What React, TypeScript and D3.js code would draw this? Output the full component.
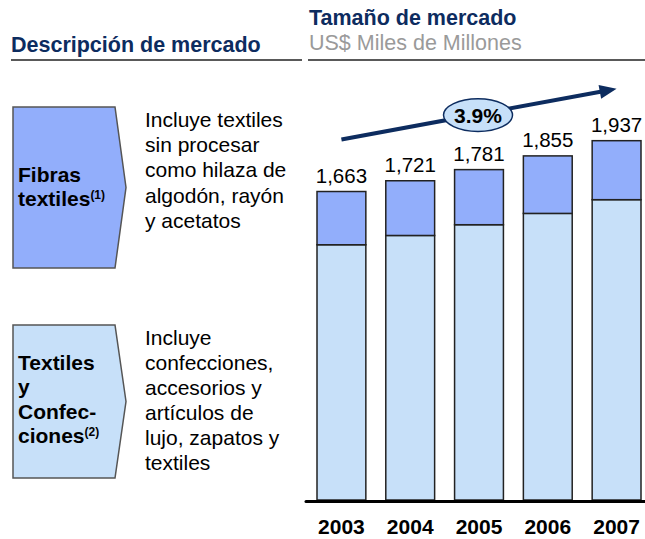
import React from "react";
import * as d3 from "d3";

const years = ["2003", "2004", "2005", "2006", "2007"];
const totals = [1663, 1721, 1781, 1855, 1937];
const textilesConfecciones = [1376, 1426, 1484, 1545, 1619];
const fibrasTextiles = [287, 295, 297, 310, 318];
const cagrLabel = "3.9%";

const fibrasDesc = ["Incluye textiles", "sin procesar", "como hilaza de", "algodón, rayón", "y acetatos"];
const textilesDesc = ["Incluye", "confecciones,", "accesorios y", "artículos de", "lujo, zapatos y", "textiles"];

const W = 645;
const H = 539;
const FONT = "'Liberation Sans', Arial, Helvetica, sans-serif";
const NAVY = "#0d2c5f";
const DARK = "#92aefb";
const LIGHT = "#c7e0f9";

export default function App() {
  const x = d3.scaleBand<string>().domain(years).range([317, 641]).paddingInner(0.29).paddingOuter(0);
  const y = d3.scaleLinear().domain([0, 2000]).range([500, 129]);
  const fmt = d3.format(",");

  const stacked = years.map((yr, i) => ({
    year: yr,
    segs: [
      { y0: 0, y1: textilesConfecciones[i], fill: LIGHT },
      { y0: textilesConfecciones[i], y1: textilesConfecciones[i] + fibrasTextiles[i], fill: DARK },
    ],
    total: totals[i],
  }));

  const bw = x.bandwidth();
  const ax0 = x(years[0])! + bw / 2;
  const ay0 = y(totals[0]) - 52;
  const ax1 = x(years[years.length - 1])! + bw / 2;
  const ay1 = y(totals[totals.length - 1]) - 52;
  const ang = Math.atan2(ay1 - ay0, ax1 - ax0);
  const ux = Math.cos(ang), uy = Math.sin(ang);
  const headL = 17, headW = 7;
  const bx = ax1 - ux * headL, by = ay1 - uy * headL;
  const head = [
    [ax1, ay1],
    [bx - uy * headW, by + ux * headW],
    [bx + uy * headW, by - ux * headW],
  ];
  const t = 0.5;
  const ex = ax0 + (ax1 - ax0) * t - 1;
  const ey = ay0 + (ay1 - ay0) * t + 1;

  const boxPath = (top: number, bottom: number) => {
    const mid = top + (bottom - top) * 0.5;
    return `M13,${top} L115,${top} L126,${mid} L115,${bottom} L13,${bottom} Z`;
  };

  return (
    <svg width={W} height={H} style={{ position: "absolute", left: 0, top: 0 }} fontFamily={FONT}>
      <rect width={W} height={H} fill="#fff" />
      <text x={11} y={52} fontSize={21.5} fontWeight="bold" fill={NAVY}>Descripción de mercado</text>
      <text x={309} y={25} fontSize={21.5} fontWeight="bold" fill={NAVY}>Tamaño de mercado</text>
      <text x={309} y={50} fontSize={21.5} fill="#9a9a9a">US$ Miles de Millones</text>
      <line x1={11} x2={302} y1={60} y2={60} stroke="#222" strokeWidth={1.5} />
      <line x1={308} x2={645} y1={60} y2={60} stroke="#222" strokeWidth={1.5} />

      <path d={boxPath(107, 268)} fill={DARK} stroke="#555" strokeWidth={1.5} />
      <text x={18} y={182} fontSize={21} fontWeight="bold" fill="#000">Fibras</text>
      <text x={18} y={206} fontSize={21} fontWeight="bold" fill="#000">
        textiles<tspan fontSize={12} dy={-7}>(1)</tspan>
      </text>
      {fibrasDesc.map((s, i) => (
        <text key={s} x={145} y={127 + i * 25.2} fontSize={21} fill="#000">{s}</text>
      ))}

      <path d={boxPath(325, 478)} fill={LIGHT} stroke="#555" strokeWidth={1.5} />
      {["Textiles", "y", "Confec-"].map((s, i) => (
        <text key={s} x={18} y={370 + i * 24.3} fontSize={21} fontWeight="bold" fill="#000">{s}</text>
      ))}
      <text x={18} y={443} fontSize={21} fontWeight="bold" fill="#000">
        ciones<tspan fontSize={12} dy={-7}>(2)</tspan>
      </text>
      {textilesDesc.map((s, i) => (
        <text key={s} x={145} y={345 + i * 25} fontSize={21} fill="#000">{s}</text>
      ))}

      {stacked.map((d) => (
        <g key={d.year}>
          {d.segs.map((s, j) => (
            <rect
              key={j}
              x={x(d.year)}
              y={y(s.y1)}
              width={bw}
              height={y(s.y0) - y(s.y1)}
              fill={s.fill}
              stroke="#222"
              strokeWidth={1.5}
            />
          ))}
          <text x={x(d.year)! + bw / 2} y={y(d.total) - 9} textAnchor="middle" fontSize={20.5} fill="#000">
            {fmt(d.total)}
          </text>
          <text x={x(d.year)! + bw / 2} y={534} textAnchor="middle" fontSize={21} fontWeight="bold" fill="#000">
            {d.year}
          </text>
        </g>
      ))}
      <line x1={306} x2={645} y1={501.5} y2={501.5} stroke="#000" strokeWidth={3} strokeLinecap="round" />

      <line x1={ax0} y1={ay0} x2={bx + ux * 2} y2={by + uy * 2} stroke={NAVY} strokeWidth={4} />
      <polygon points={head.map((p) => p.join(",")).join(" ")} fill={NAVY} />
      <ellipse cx={ex} cy={ey} rx={34.5} ry={16.3} fill={LIGHT} stroke={NAVY} strokeWidth={1.5} />
      <text x={ex} y={ey + 7.5} textAnchor="middle" fontSize={21} fontWeight="bold" fill="#000">{cagrLabel}</text>
    </svg>
  );
}
